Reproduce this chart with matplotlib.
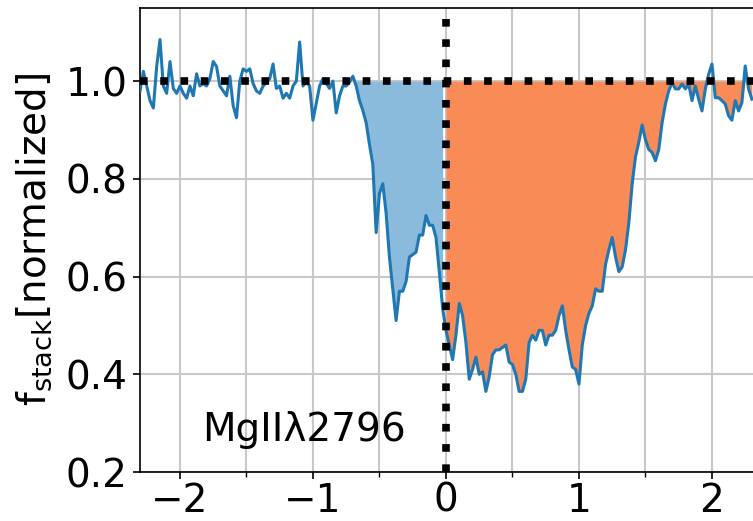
import numpy as np
import matplotlib.pyplot as plt
from matplotlib.ticker import MultipleLocator

# velocity grid (start, step) and stacked flux
v_start = -2.3
v_step = 0.025
flux = [
    # -2.300 .. -1.500
    0.98, 1.02, 0.99, 0.96, 0.945, 1.03, 1.085, 0.99, 0.975, 1.04, 0.985,
    0.975, 0.99, 0.975, 0.965, 0.99, 0.97, 1.015, 0.99, 0.995, 0.99, 1.005,
    1.04, 1.03, 0.99, 0.98, 0.97, 1.01, 0.95, 0.925, 1.0, 1.025, 1.02,
    # -1.475 .. -0.700
    1.025, 0.995, 0.98, 0.975, 0.99, 0.997, 1.005, 1.035, 0.985, 0.99, 0.965,
    0.975, 0.965, 0.99, 1.0, 1.08, 0.99, 0.998, 0.99, 0.92, 0.955, 0.99,
    1.005, 0.995, 0.985, 1.0, 0.935, 0.97, 0.99, 0.99, 0.998, 1.01,
    # -0.675 .. 0.000
    0.99, 0.96, 0.94, 0.915, 0.87, 0.83, 0.69, 0.77, 0.79, 0.73, 0.64,
    0.575, 0.51, 0.57, 0.57, 0.59, 0.64, 0.645, 0.65, 0.685, 0.685, 0.725,
    0.705, 0.705, 0.68, 0.61, 0.535, 0.49,
    # 0.025 .. 0.675
    0.46, 0.43, 0.48, 0.545, 0.52, 0.465, 0.39, 0.41, 0.435, 0.40, 0.405,
    0.365, 0.395, 0.44, 0.45, 0.45, 0.455, 0.46, 0.425, 0.42, 0.40, 0.365,
    0.365, 0.39, 0.465, 0.48, 0.47,
    # 0.700 .. 1.475
    0.49, 0.49, 0.46, 0.48, 0.48, 0.49, 0.52, 0.54, 0.49, 0.45, 0.415,
    0.41, 0.38, 0.46, 0.50, 0.525, 0.54, 0.575, 0.57, 0.57, 0.625, 0.655,
    0.68, 0.64, 0.61, 0.62, 0.655, 0.71, 0.79, 0.845, 0.875, 0.91,
    # 1.500 .. 2.300
    0.88, 0.86, 0.854, 0.837, 0.86, 0.915, 0.953, 0.98, 0.997, 0.984, 0.984,
    0.994, 0.984, 0.994, 0.96, 0.99, 0.963, 0.939, 0.984, 1.014, 1.035, 0.966,
    0.966, 0.96, 0.953, 0.929, 0.92, 0.96, 0.939, 0.956, 1.031, 0.984, 0.963,
]
blue_range = (-0.7, 0.0)
line_label = 'MgII\u03bb2796'

flux = np.array(flux)
vel = v_start + v_step * np.arange(len(flux))
low = np.minimum(flux, 1.0)

plt.rcParams['font.size'] = 28

fig = plt.figure(figsize=(7.53, 5.21), dpi=100)
# right spine falls just outside the picture, as in the original crop
ax = fig.add_axes([0.186, 0.094, 0.8178, 0.891])

# shaded absorption
m_blue = (vel >= blue_range[0]) & (vel <= blue_range[1])
m_orange = vel >= blue_range[1]
ax.fill_between(vel, low, 1.0, where=m_blue, color='#8bbbdc', lw=0, zorder=2)
ax.fill_between(vel, low, 1.0, where=m_orange, color='#f98b56', lw=0, zorder=2)

ax.plot(vel, flux, color='#1f77b4', lw=2.2, zorder=3)

ax.axhline(1.0, color='k', ls=':', lw=5.5, zorder=4)
ax.axvline(0.0, color='k', ls=':', lw=5.5, zorder=4)

ax.text(-1.83, 0.287, line_label, ha='left', va='center')

ax.set_xlim(-2.3, 2.33)
ax.set_ylim(0.2, 1.15)
ax.xaxis.set_major_locator(MultipleLocator(1))
ax.xaxis.set_minor_locator(MultipleLocator(0.5))
ax.set_yticks([0.2, 0.4, 0.6, 0.8, 1.0])

ax.grid(axis='x', which='both', color='#c8c8c8', lw=1.5, zorder=0)
ax.grid(axis='y', which='major', color='#c8c8c8', lw=1.5, zorder=0)
ax.set_axisbelow(True)

ax.tick_params(which='major', length=5, width=1.2, pad=4)
ax.tick_params(axis='x', which='major', pad=2)
ax.tick_params(which='minor', length=3.5, width=1.0)
for s in ax.spines.values():
    s.set_linewidth(1.2)

ax.set_ylabel(r'$\mathrm{f_{stack}}$[normalized]', labelpad=8)

fig.savefig('out.png', dpi=100)
